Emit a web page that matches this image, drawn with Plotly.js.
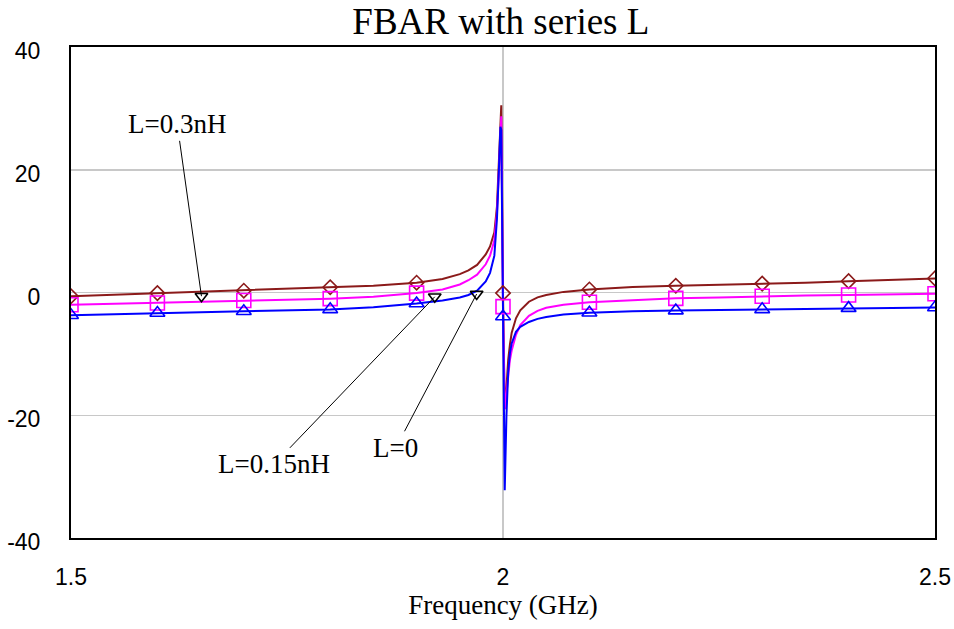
<!DOCTYPE html>
<html>
<head>
<meta charset="utf-8">
<script src="https://cdn.plot.ly/plotly-3.0.1.min.js"></script>
<style>html,body{margin:0;padding:0;background:#fff;}#chart{width:954px;height:629px;}</style>
</head>
<body>
<div id="chart"></div>
<script>
// Frequency samples (GHz)
const freq = [1.5, 1.55, 1.6, 1.65, 1.7, 1.75, 1.8, 1.85, 1.9, 1.93, 1.95, 1.96, 1.97, 1.98, 1.985, 1.99, 1.993, 1.995, 1.997, 1.998, 2.0, 2.002, 2.004, 2.006, 2.008, 2.01, 2.015, 2.02, 2.03, 2.04, 2.05, 2.07, 2.1, 2.15, 2.2, 2.25, 2.3, 2.35, 2.4, 2.45, 2.5];
// L = 0.3 nH (brown)
const valL03 = [-0.6, -0.35, -0.1, 0.1, 0.3, 0.55, 0.85, 1.1, 1.6, 2.2, 3.0, 3.6, 4.5, 6.2, 7.5, 9.8, 14, 20, 27, 30.5, -0.1, -19, -15.5, -11, -8.5, -6.6, -4.2, -2.9, -1.5, -0.8, -0.4, 0.1, 0.5, 0.9, 1.1, 1.25, 1.45, 1.6, 1.85, 2.05, 2.3];
// L = 0.15 nH (magenta)
const valL015 = [-2.0, -1.85, -1.7, -1.5, -1.3, -1.15, -1.0, -0.7, -0.1, 0.5, 1.3, 2.0, 2.9, 4.6, 6.0, 8.5, 13, 19, 26, 28.7, -2.3, -19, -16.5, -13, -11, -9.5, -6.9, -5.3, -3.8, -3.0, -2.5, -2.0, -1.6, -1.25, -0.95, -0.8, -0.6, -0.5, -0.4, -0.25, -0.2];
// L = 0 (blue)
const valL0 = [-3.7, -3.5, -3.35, -3.2, -3.05, -2.9, -2.75, -2.4, -1.8, -1.3, -0.8, -0.4, 0.3, 1.8, 3.2, 6.0, 12, 19, 27, 26.5, -3.9, -32.2, -20, -13, -9.9, -8.3, -6.4, -5.6, -4.8, -4.3, -4.0, -3.6, -3.3, -3.05, -2.95, -2.85, -2.75, -2.65, -2.55, -2.5, -2.45];

// Labels with arrows
const labelText = ['L=0.3nH', 'L=0.15nH', 'L=0'];
const labelX = [1.623, 1.735, 1.876];
const labelY = [27.4, -28.0, -25.3];
const arrowTipX = [1.651, 1.921, 1.9695];
const arrowTipY = [-0.6, -0.7, -0.25];

const xTicks = [1.5, 2, 2.5];
const xTickText = ['1.5', '2', '2.5'];
const yTicks = [-40, -20, 0, 20, 40];
const yTickText = ['-40', '-20', '0', '20', '40'];

const series = [
  {name: 'L=0.3nH', y: valL03, color: '#8b1a1a', symbol: 'diamond-open', size: 11},
  {name: 'L=0.15nH', y: valL015, color: '#ff00ff', symbol: 'square-open', size: 14},
  {name: 'L=0', y: valL0, color: '#0000ff', symbol: 'triangle-up-open', size: 13}
];

const markIdx = freq.map((f, i) => i).filter(i => Math.abs(freq[i] * 10 - Math.round(freq[i] * 10)) < 1e-6);

const traces = [];
series.forEach(s => {
  traces.push({x: freq, y: s.y, type: 'scatter', mode: 'lines', line: {color: s.color, width: 2}, showlegend: false, hoverinfo: 'skip'});
});
series.forEach(s => {
  traces.push({x: markIdx.map(i => freq[i]), y: markIdx.map(i => s.y[i]), type: 'scatter', mode: 'markers',
    marker: {symbol: s.symbol, size: s.size, color: s.color, line: {color: s.color, width: 1.6}}, showlegend: false, hoverinfo: 'skip'});
});
traces.push({x: arrowTipX, y: arrowTipY, type: 'scatter', mode: 'markers',
  marker: {symbol: 'triangle-down-open', size: 11, color: '#000', line: {color: '#000', width: 1.6}}, showlegend: false, hoverinfo: 'skip'});

const annotations = labelText.map((t, i) => ({
  x: arrowTipX[i], y: arrowTipY[i], xref: 'x', yref: 'y',
  ax: labelX[i], ay: labelY[i], axref: 'x', ayref: 'y',
  text: t, showarrow: true, arrowhead: 0, arrowwidth: 1, arrowcolor: '#000',
  font: {family: 'Liberation Serif', size: 27, color: '#000'}
}));

const layout = {
  width: 954, height: 629,
  margin: {l: 71, r: 19, t: 47, b: 91},
  paper_bgcolor: '#fff', plot_bgcolor: '#fff',
  title: {text: 'FBAR with series L', font: {family: 'Liberation Serif', size: 37, color: '#000'},
    x: 0.525, xanchor: 'center', y: 0.966, yanchor: 'middle', yref: 'container'},
  xaxis: {range: [1.5, 2.5], tickvals: xTicks, ticktext: xTickText, showgrid: true, gridcolor: '#c8c8c8', gridwidth: 1.5,
    zeroline: false, showline: true, mirror: true, linecolor: '#000', linewidth: 2, ticks: '',
    ticklabelstandoff: 17, tickfont: {family: 'Liberation Sans', size: 23, color: '#000'},
    title: {text: 'Frequency (GHz)', font: {family: 'Liberation Serif', size: 27, color: '#000'}, standoff: 4}},
  yaxis: {range: [-40, 40], tickvals: yTicks, ticktext: yTickText, showgrid: true, gridcolor: '#c8c8c8', gridwidth: 1.5,
    zeroline: false, showline: true, mirror: true, linecolor: '#000', linewidth: 2, ticks: '',
    ticklabelstandoff: 24, ticklabelshift: 4, tickfont: {family: 'Liberation Sans', size: 23, color: '#000'}},
  annotations: annotations,
  showlegend: false
};

Plotly.newPlot('chart', traces, layout, {displayModeBar: false, staticPlot: true});
</script>
</body>
</html>
